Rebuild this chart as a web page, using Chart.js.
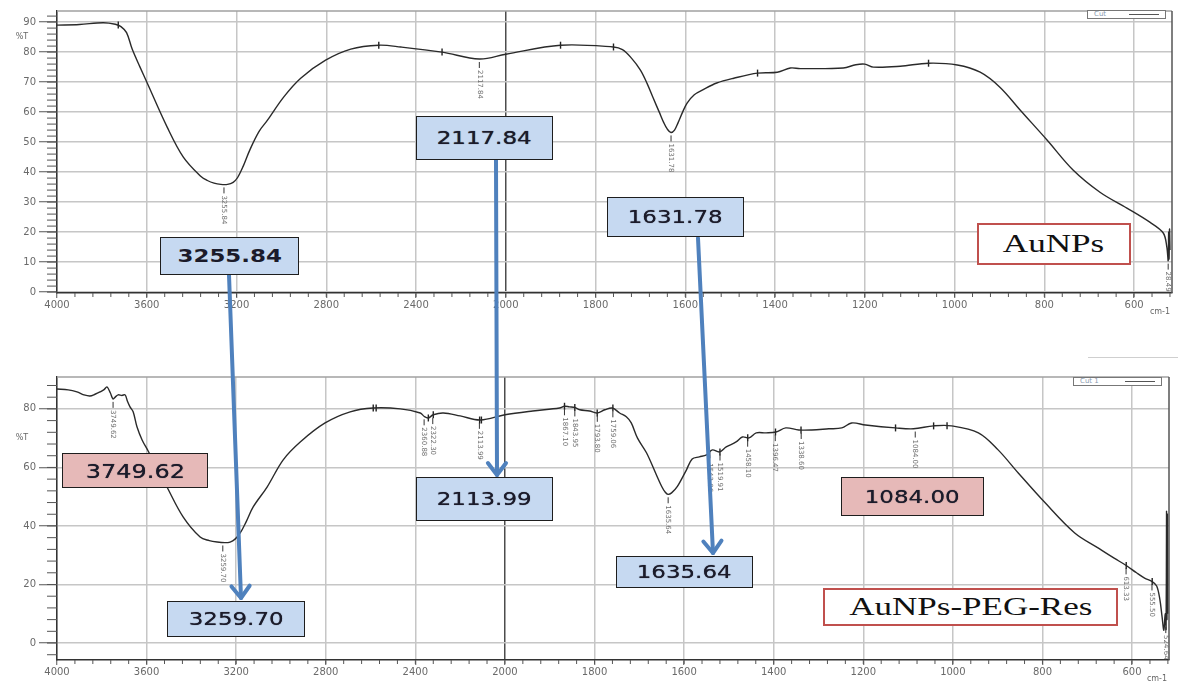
<!DOCTYPE html>
<html>
<head>
<meta charset="utf-8">
<script src="https://cdn.jsdelivr.net/npm/chart.js@4.4.0/dist/chart.umd.min.js"></script>
<style>
body { margin: 0; background: #fff; }
#page { position: relative; width: 1184px; height: 683px; overflow: hidden; font-family: "DejaVu Sans", sans-serif; }
canvas { position: absolute; left: 0; }
#c1 { top: 0; }
#c2 { top: 345px; }
svg { position: absolute; left: 0; top: 0; }
.box { position: absolute; box-sizing: border-box; border: 1.5px solid #1e1e1e; display: flex; align-items: center; justify-content: center; color: #1b1b2a; font-size: 17px; text-shadow: 0 0 0.7px #1b1b2a; }
.box span { display: inline-block; transform: scaleX(1.35); }
.blue { background: #c6d9f1; }
.pink { background: #e6b9b8; }
.name { background: #fff; border: 2.5px solid #c0504d; font-family: "Liberation Serif", serif; font-size: 26px; color: #111; }
.cut { position: absolute; box-sizing: border-box; height: 9px; border: 1px solid #777; background: #fff; font-size: 7px; line-height: 7px; color: #8a9ab0; padding-left: 6px; }
.cut i { position: absolute; right: 6px; top: 3px; width: 30px; height: 1px; background: #555; }
</style>
</head>
<body>
<div id="page">
  <canvas id="c1" width="1184" height="330"></canvas>
  <canvas id="c2" width="1184" height="338"></canvas>
  <svg id="arrows" width="1184" height="683"></svg>
  <div class="cut" style="left:1087px;top:10px;width:79px">Cut<i></i></div>
  <div class="cut" style="left:1073px;top:377px;width:89px">Cut 1<i></i></div>
  <div style="position:absolute;left:1088px;top:357px;width:90px;height:1px;background:#cfcfcf"></div>

  <div class="box blue" style="left:160px;top:237px;width:139px;height:38px;font-weight:bold;text-shadow:none"><span>3255.84</span></div>
  <div class="box blue" style="left:416px;top:116px;width:137px;height:44px"><span>2117.84</span></div>
  <div class="box blue" style="left:607px;top:197px;width:137px;height:40px"><span>1631.78</span></div>
  <div class="box pink" style="left:62px;top:453px;width:146px;height:35px;font-size:20px"><span style="transform:scaleX(1.2)">3749.62</span></div>
  <div class="box blue" style="left:167px;top:601px;width:138px;height:36px"><span>3259.70</span></div>
  <div class="box blue" style="left:416px;top:477px;width:137px;height:44px"><span>2113.99</span></div>
  <div class="box blue" style="left:616px;top:556px;width:137px;height:32px"><span>1635.64</span></div>
  <div class="box pink" style="left:841px;top:477px;width:143px;height:39px"><span>1084.00</span></div>
  <div class="box name" style="left:977px;top:223px;width:154px;height:42px;text-shadow:none"><span>AuNPs</span></div>
  <div class="box name" style="left:823px;top:588px;width:295px;height:38px;font-size:25px;text-shadow:none"><span style="transform:scaleX(1.4)">AuNPs-PEG-Res</span></div>
</div>
<script>
// x axis: 4000-2000 at one scale, below 2000 expanded twice
const xTicks = [4000, 3600, 3200, 2800, 2400, 2000, 1800, 1600, 1400, 1200, 1000, 800, 600];
const yTicksTop = [0, 10, 20, 30, 40, 50, 60, 70, 80, 90];
const yTicksBot = [0, 20, 40, 60, 80];

// AuNPs spectrum (cm-1, %T)
const waveTop = [4000, 3900, 3795, 3740, 3715, 3690, 3665, 3630, 3598, 3509,
  3437, 3361, 3330, 3300, 3270, 3240, 3215, 3195, 3170, 3140,
  3100, 3062, 2990, 2914, 2803, 2691, 2566, 2467, 2284, 2118,
  2000, 1878, 1760, 1740, 1720, 1700, 1685, 1671, 1658, 1648,
  1640, 1632, 1624, 1616, 1606, 1596, 1580, 1560, 1530, 1492,
  1439, 1395, 1366, 1344, 1248, 1220, 1200, 1181, 1121, 1058,
  994, 943, 899, 854, 794, 736, 676, 616, 565, 535,
  527, 524, 523, 522, 521, 520];
const transTop = [89, 89.2, 89.8, 89.3, 88.5, 86.5, 81, 75, 69.7, 55,
  45, 38.7, 37.2, 36.3, 35.9, 35.9, 36.6, 38.2, 42, 47.5,
  53.5, 57.3, 65, 71.3, 77.3, 81, 82.3, 81.7, 80, 77.7,
  79.3, 82.3, 81.7, 80.8, 78, 74, 69.5, 64.5, 60, 56.5,
  54.3, 53.2, 54, 56.5, 60, 63, 65.8, 67.5, 69.7, 71.3,
  73, 73.3, 74.7, 74.5, 74.7, 75.8, 76, 75, 75.3, 76.3,
  75.7, 73.3, 68.3, 60.7, 50.7, 40.7, 33.3, 28, 23.3, 19.7,
  15, 10.5, 20, 11, 21, 14];
const markTopW = [3727, 2566, 2284, 1878, 1760, 1439, 1058];
const markTopT = [89, 82.3, 80, 82.3, 81.7, 73, 76.3];
const peakTopW = [3255.84, 2117.84, 1631.78, 524];
const peakTopText = ["3255.84", "2117.84", "1631.78", "28.49"];

// AuNPs-PEG-Res spectrum
const waveBot = [4000, 3950, 3911, 3880, 3853, 3830, 3808, 3790, 3777, 3762,
  3750, 3738, 3727, 3710, 3696, 3685, 3674, 3660, 3643, 3620,
  3593, 3509, 3437, 3361, 3320, 3285, 3250, 3227, 3205, 3182,
  3155, 3124, 3062, 2990, 2914, 2803, 2691, 2588, 2467, 2378,
  2360, 2342, 2320, 2275, 2200, 2110, 2000, 1938, 1878, 1867,
  1856, 1844, 1833, 1811, 1795, 1777, 1760, 1744, 1729, 1718,
  1704, 1684, 1662, 1650, 1642, 1636, 1628, 1615, 1595, 1582,
  1566, 1550, 1537, 1521, 1506, 1484, 1470, 1455, 1439, 1417,
  1395, 1373, 1344, 1315, 1277, 1248, 1226, 1195, 1128, 1088,
  1043, 1003, 943, 899, 854, 794, 728, 676, 640, 613,
  590, 572, 555, 545, 538, 533, 529, 526, 524, 523,
  522, 521, 520];
const transBot = [86.8, 86.5, 85.8, 84.8, 84.4, 85, 85.8, 86.6, 87.5, 85.5,
  83.4, 84.2, 84.8, 84.6, 84.8, 82.5, 80.7, 79, 73.9, 69.4,
  65.6, 53.3, 43.1, 36.2, 35, 34.5, 34.3, 34.5, 35.5, 37.6,
  41.5, 46.5, 53.3, 62.6, 68.7, 75.2, 79, 80.3, 80, 78.6,
  77.4, 76.9, 78, 78.6, 77.6, 76.2, 78, 79.3, 80.3, 80.9,
  80.7, 80.5, 79.7, 79.3, 78.6, 79.7, 80.3, 78.6, 77.3, 75.2,
  70, 65, 57.5, 53.5, 51.5, 50.8, 51.3, 53.5, 59.1, 62.9,
  63.6, 64.3, 66, 65.3, 67, 68.7, 70.4, 70.1, 71.8, 71.8,
  72.1, 73.5, 72.8, 72.8, 73.2, 73.5, 75.2, 74.5, 73.5, 73.2,
  74.2, 74.2, 71.8, 66, 58.1, 47.9, 37.6, 32.5, 29, 26.5,
  24, 22.2, 21, 19.5, 15, 9, 4.4, 10, 4.8, 45,
  8, 44, 10];
const markBotW = [2588, 2575, 2342, 2320, 2113, 2105, 1867, 1844, 1794, 1759, 1543, 1520, 1458, 1396, 1339, 1128, 1043, 1013, 613, 555];
const markBotT = [80.3, 80.3, 76.9, 78, 76.2, 76.2, 80.9, 80.5, 78.6, 80.3, 64.3, 65.3, 70.1, 72.1, 72.8, 73.5, 74.2, 74.2, 26.5, 21];
const peakBotW = [3749.62, 3259.70, 2360.88, 2322.30, 2113.99, 1867.10, 1843.95, 1793.80, 1759.06, 1635.64,
  1543.06, 1519.91, 1458.10, 1396.47, 1338.60, 1084.00, 613.33, 555.50, 524.64];
const peakBotText = ["3749.62", "3259.70", "2360.88", "2322.30", "2113.99", "1867.10", "1843.95", "1793.80", "1759.06", "1635.64",
  "1543.06", "1519.91", "1458.10", "1396.47", "1338.60", "1084.00", "613.33", "555.50", "524.64"];

function pos(w) { return w >= 2000 ? 4000 - w : 2000 + (2000 - w) * 2; }
function wave(p) { return p <= 2000 ? 4000 - p : 2000 - (p - 2000) / 2; }
const toXY = (ws, ts) => ws.map((w, i) => ({ x: pos(w), y: ts[i] }));

function interp(ws, ts, w) {
  for (let i = 0; i < ws.length - 1; i++) {
    if (w <= ws[i] && w >= ws[i + 1]) {
      const f = (ws[i] - w) / (ws[i] - ws[i + 1]);
      return ts[i] + f * (ts[i + 1] - ts[i]);
    }
  }
  return ts[ts.length - 1];
}

function decor(o) {
  return {
    id: 'decor',
    afterDraw(chart) {
      const { ctx, chartArea: a, scales: { x, y } } = chart;
      const line = (x1, y1, x2, y2) => { ctx.beginPath(); ctx.moveTo(x1, y1); ctx.lineTo(x2, y2); ctx.stroke(); };
      ctx.save();
      ctx.lineWidth = 1.5;
      ctx.strokeStyle = '#a0a0a0';
      line(a.left, a.top, a.right, a.top);
      ctx.strokeStyle = '#555';
      line(a.right, a.top, a.right, a.bottom);

      // minor ticks
      ctx.lineWidth = 1;
      ctx.strokeStyle = '#555';
      for (let p = 80; p < x.max; p += 80) {
        const px = x.getPixelForValue(p);
        line(px, a.bottom, px, a.bottom + 4);
      }
      for (let v = Math.ceil(y.min / o.yMinor) * o.yMinor; v <= y.max; v += o.yMinor) {
        const py = y.getPixelForValue(v);
        line(a.left - 10, py, a.left, py);
      }

      // peak labels
      ctx.font = '7px "DejaVu Sans"';
      ctx.fillStyle = '#707070';
      ctx.strokeStyle = '#333';
      o.peakW.forEach((w, i) => {
        const px = x.getPixelForValue(pos(w));
        const py = y.getPixelForValue(interp(o.wave, o.trans, w)) + 3;
        line(px, py, px, py + 6);
        ctx.save();
        ctx.translate(px, py + 8);
        ctx.rotate(Math.PI / 2);
        ctx.textBaseline = 'middle';
        ctx.fillText(o.peakText[i], 0, 0);
        ctx.restore();
      });

      // axis names
      ctx.font = '8px "DejaVu Sans"';
      ctx.fillStyle = '#666';
      ctx.textAlign = 'center';
      ctx.textBaseline = 'middle';
      ctx.fillText('%T', 22, y.getPixelForValue(o.tAt));
      ctx.fillText('cm-1', a.right - 12, a.bottom + 19);
      ctx.restore();
    }
  };
}

function makeChart(id, o) {
  const font = { family: 'DejaVu Sans', size: 10 };
  return new Chart(document.getElementById(id), {
    type: 'line',
    data: {
      datasets: [
        { data: toXY(o.wave, o.trans), borderColor: '#2a2a2a', borderWidth: 1.4, pointRadius: 0, tension: 0.35 },
        { data: toXY(o.markW, o.markT), showLine: false, pointStyle: 'line', rotation: 90, pointRadius: 3.5, borderColor: '#222', borderWidth: 1.4 }
      ]
    },
    options: {
      responsive: false,
      animation: false,
      layout: { padding: o.pad },
      plugins: { legend: { display: false }, tooltip: { enabled: false } },
      scales: {
        x: {
          type: 'linear', min: 0, max: o.xMax,
          afterBuildTicks: s => { s.ticks = xTicks.map(w => ({ value: pos(w) })); },
          afterFit: s => { s.height = o.xH; },
          ticks: { callback: v => wave(v), font, color: '#6a6a6a', padding: 1, maxRotation: 0, autoSkip: false },
          grid: { color: c => (c.tick && c.tick.value === 2000 ? '#4d4d4d' : '#c6c6c6'), lineWidth: 1.5, tickLength: 5, tickColor: '#555', tickWidth: 1 },
          border: { color: '#333', width: 1.5 }
        },
        y: {
          min: o.yMin, max: o.yMax,
          afterBuildTicks: s => { s.ticks = o.yTicks.map(v => ({ value: v })); },
          afterFit: s => { s.width = 57; },
          ticks: { font, color: '#6a6a6a', padding: 3 },
          grid: { color: '#c6c6c6', lineWidth: 1.5, tickLength: 18, tickColor: '#555', tickWidth: 1 },
          border: { color: '#333', width: 1.5 }
        }
      }
    },
    plugins: [decor(o)]
  });
}

makeChart('c1', {
  wave: waveTop, trans: transTop, markW: markTopW, markT: markTopT, peakW: peakTopW, peakText: peakTopText,
  pad: { left: 0, right: 12, top: 11, bottom: 0 }, xH: 37, xMax: 4969,
  yMin: -0.3, yMax: 93.7, yTicks: yTicksTop, yMinor: 2, tAt: 85
});
makeChart('c2', {
  wave: waveBot, trans: transBot, markW: markBotW, markT: markBotT, peakW: peakBotW, peakText: peakBotText,
  pad: { left: 0, right: 15, top: 32, bottom: 0 }, xH: 23, xMax: 4965,
  yMin: -5.8, yMax: 90.9, yTicks: yTicksBot, yMinor: 4, tAt: 70
});

// blue arrows between the two spectra
const arrows = [[229, 275, 241, 598], [496, 160, 497, 475], [698, 238, 713, 553]];
const svg = document.getElementById('arrows');
arrows.forEach(([x1, y1, x2, y2]) => {
  const ang = Math.atan2(y2 - y1, x2 - x1);
  const hx = (d) => x2 - 15 * Math.cos(ang + d);
  const hy = (d) => y2 - 15 * Math.sin(ang + d);
  const g = document.createElementNS('http://www.w3.org/2000/svg', 'g');
  g.setAttribute('stroke', '#4f81bd');
  g.setAttribute('stroke-width', '4');
  g.setAttribute('fill', 'none');
  g.setAttribute('stroke-linecap', 'round');
  g.setAttribute('stroke-linejoin', 'round');
  g.innerHTML = `<line x1="${x1}" y1="${y1}" x2="${x2}" y2="${y2}"/>` +
    `<polyline points="${hx(0.65)},${hy(0.65)} ${x2},${y2} ${hx(-0.65)},${hy(-0.65)}"/>`;
  svg.appendChild(g);
});
</script>
</body>
</html>
